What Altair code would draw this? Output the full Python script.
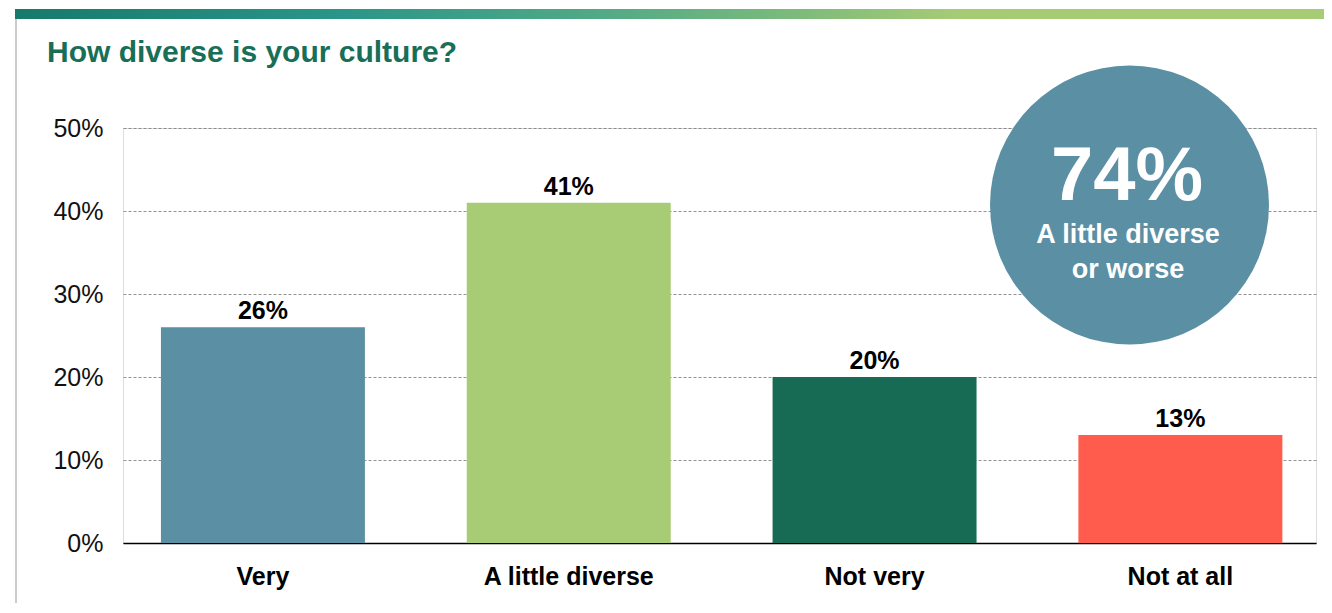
import altair as alt
import pandas as pd

categories = ["Very", "A little diverse", "Not very", "Not at all"]
values = [26, 41, 20, 13]
bar_colors = ["#5B8FA3", "#A8CC75", "#176B55", "#FF5C4D"]
y_ticks = [0, 10, 20, 30, 40, 50]
title_text = "How diverse is your culture?"
callout_value = "74%"
callout_lines = ["A little diverse", "or worse"]

FONT = "Liberation Sans"

df = pd.DataFrame({"category": categories, "value": values,
                   "label": [f"{v}%" for v in values]})

x_enc = alt.X("category:N", sort=categories,
              scale=alt.Scale(paddingInner=0.333, paddingOuter=0.117, align=0.53),
              axis=alt.Axis(title=None, labelAngle=0, labelFont=FONT, labelFontSize=25,
                            labelFontWeight="bold", labelColor="#000000", labelPadding=21,
                            ticks=False, domain=True, domainColor="#000000",
                            domainWidth=1.6, grid=False))
y_enc = alt.Y("value:Q", scale=alt.Scale(domain=[0, 50], nice=False),
              axis=alt.Axis(title=None, values=y_ticks, labelExpr="datum.value + '%'",
                            labelFont=FONT, labelFontSize=25, labelColor="#111111",
                            labelPadding=20, ticks=False, domain=False,
                            grid=True, gridColor="#777777", gridDash=[3, 2], gridWidth=0.8))

bars = alt.Chart(df).mark_bar().encode(
    x=x_enc, y=y_enc,
    color=alt.Color("category:N", sort=categories,
                    scale=alt.Scale(domain=categories, range=bar_colors), legend=None),
)

labels = alt.Chart(df).mark_text(font=FONT, fontSize=25, fontWeight="bold",
                                 color="#000000", baseline="alphabetic", dy=-8).encode(
    x=alt.X("category:N", sort=categories), y="value:Q", text="label:N")

one = pd.DataFrame({"k": [0]})

top_bar = alt.Chart(one).mark_rect(
    color=alt.Gradient(gradient="linear", x1=0, x2=1, y1=0, y2=0,
                       stops=[alt.GradientStop(color="#167A6B", offset=0),
                              alt.GradientStop(color="#2A9588", offset=0.25),
                              alt.GradientStop(color="#52AA86", offset=0.45),
                              alt.GradientStop(color="#7DBB7B", offset=0.6),
                              alt.GradientStop(color="#A7CB75", offset=0.72),
                              alt.GradientStop(color="#A8CC75", offset=1)])
).encode(x=alt.value(-108), x2=alt.value(1201), y=alt.value(-119), y2=alt.value(-109))

left_line = alt.Chart(one).mark_rule(color="#CCCCCC", strokeWidth=2).encode(
    x=alt.value(-107), y=alt.value(-109), y2=alt.value(480))

title = alt.Chart(one).mark_text(text=title_text, font=FONT, fontSize=30, fontWeight="bold",
                                 color="#186E56", align="left", baseline="alphabetic").encode(
    x=alt.value(-76), y=alt.value(-66))

circle = alt.Chart(one).mark_point(filled=True, shape="circle", size=77841,
                                   color="#5A8FA4", opacity=1).encode(
    x=alt.value(1006.5), y=alt.value(77))

big = alt.Chart(one).mark_text(text=callout_value, font=FONT, fontSize=76, fontWeight="bold",
                               color="white", align="center", baseline="alphabetic").encode(
    x=alt.value(1004), y=alt.value(72))
line1 = alt.Chart(one).mark_text(text=callout_lines[0], font=FONT, fontSize=27, fontWeight="bold",
                                 color="white", align="center", baseline="alphabetic").encode(
    x=alt.value(1005), y=alt.value(115))
line2 = alt.Chart(one).mark_text(text=callout_lines[1], font=FONT, fontSize=27, fontWeight="bold",
                                 color="white", align="center", baseline="alphabetic").encode(
    x=alt.value(1005), y=alt.value(150))

chart = alt.layer(bars, labels, circle, big, line1, line2, top_bar, left_line, title).properties(
    width=1193, height=415,
    autosize=alt.AutoSizeParams(type="none"),
    padding={"left": 115, "top": 120, "right": 8, "bottom": 60},
).configure_view(stroke=None).configure(background="white")

chart.save("out.html", embed_options={"renderer": "svg", "actions": False})
